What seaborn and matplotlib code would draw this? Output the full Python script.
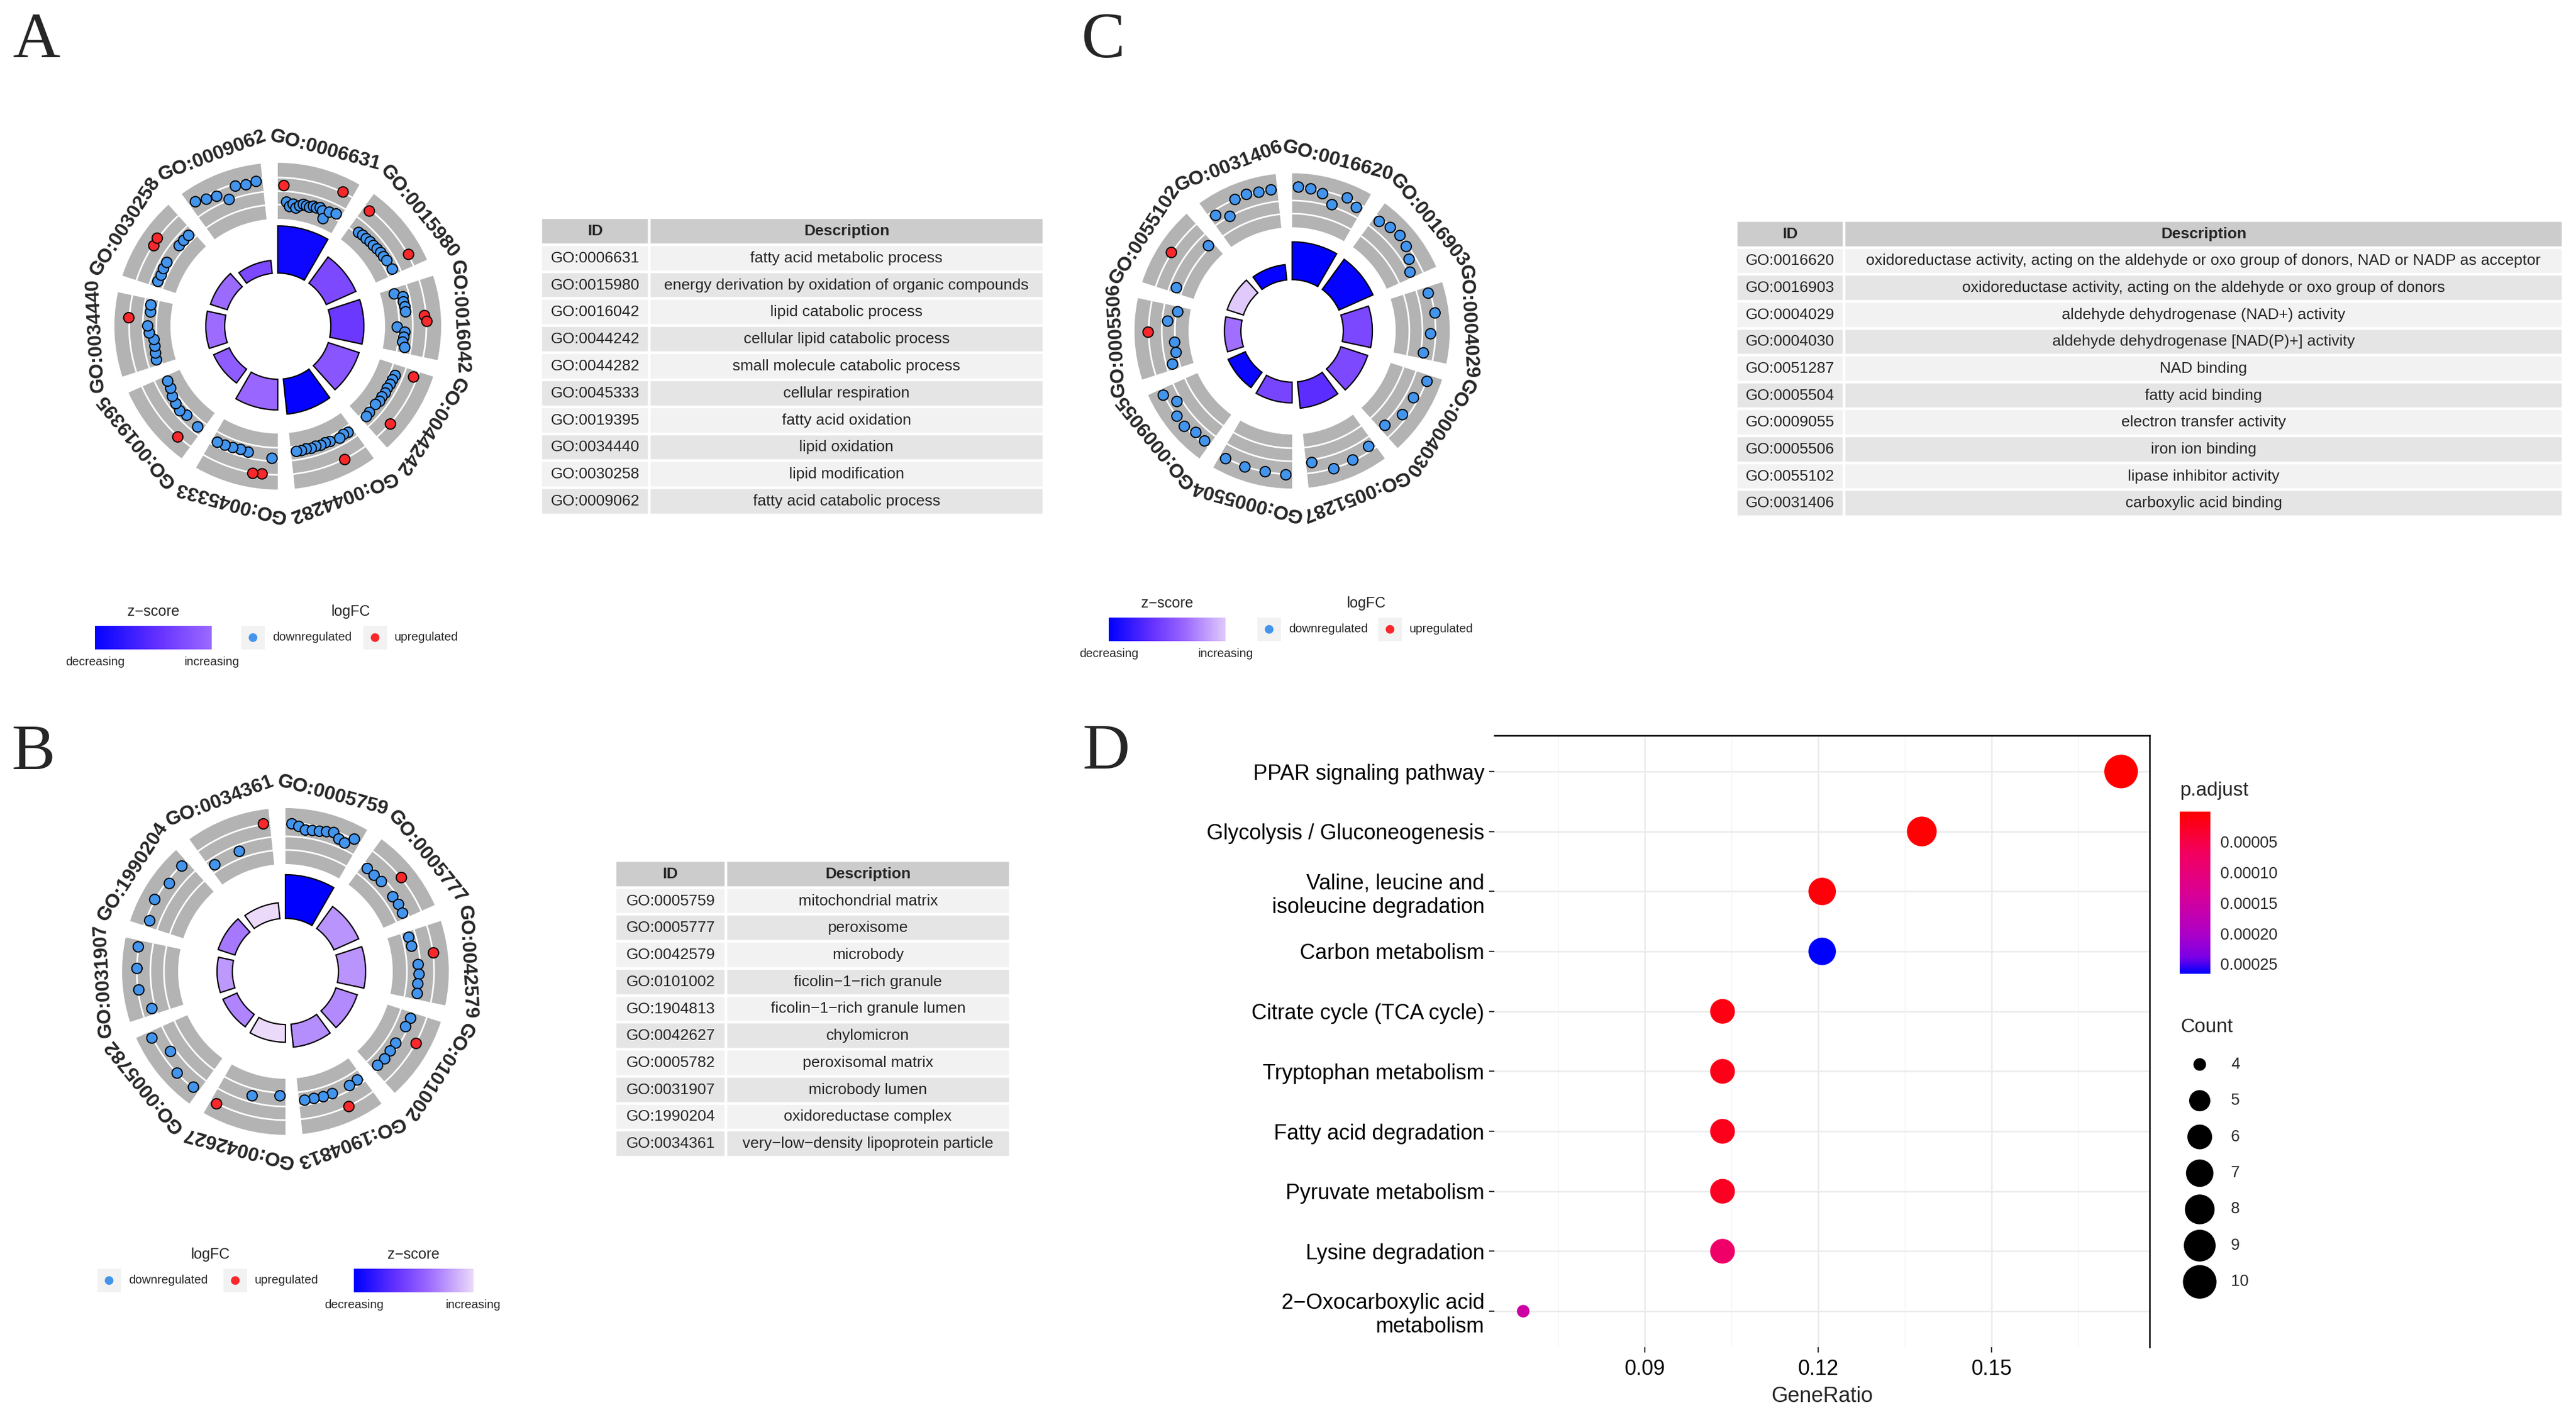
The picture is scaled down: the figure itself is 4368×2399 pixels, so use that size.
import numpy as np
import pandas as pd
import matplotlib
matplotlib.use("Agg")
import matplotlib.pyplot as plt
import seaborn as sns
from matplotlib.colors import LinearSegmentedColormap, Normalize
from matplotlib.patches import Rectangle
from matplotlib.cm import ScalarMappable

sns.set_style("white")
plt.rcParams["font.family"] = ["Liberation Sans", "DejaVu Sans"]

W, H, DPI = 4368, 2399, 200

# ── Panel A: GO biological process ─────────────────────────────────────────
A_ids = ["GO:0006631", "GO:0015980", "GO:0016042", "GO:0044242", "GO:0044282",
         "GO:0045333", "GO:0019395", "GO:0034440", "GO:0030258", "GO:0009062"]
A_desc = ["fatty acid metabolic process",
          "energy derivation by oxidation of organic compounds",
          "lipid catabolic process", "cellular lipid catabolic process",
          "small molecule catabolic process", "cellular respiration",
          "fatty acid oxidation", "lipid oxidation", "lipid modification",
          "fatty acid catabolic process"]
A_neglogp = [16.0, 11.0, 11.2, 11.0, 12.0, 10.4, 5.8, 6.4, 6.0, 4.4]
A_zscore = [-3.04, -1.73, -2.0, -1.54, -3.14, -1.28, -1.44, -1.22, -1.25, -1.73]
A_logfc = [
    [0.4, -0.75, -1.05, -0.85, -1.1, -0.9, -0.75, -0.8, -0.85, -0.7, -0.75, -0.65, -0.8, -1.3, -0.7, 1.0, -0.6],
    [0.85, -0.8, -0.75, -0.75, -0.7, -0.7, -0.65, -0.6, -0.6, -0.55, 1.0, -0.5],
    [-1.0, -0.45, -0.5, -0.45, -0.45, 0.85, 1.0, -1.1, -0.55, -0.6, -0.65, -0.45],
    [0.7, -0.55, -0.6, -0.6, -0.65, -0.6, -0.65, -0.6, -0.7, 1.0, -0.65, -0.6],
    [-0.55, -0.6, -0.5, 1.0, -0.6, -0.65, -0.6, -0.65, -0.6, -0.65, -0.6, -0.6],
    [-0.2, 0.95, 1.0, -0.4, -0.45, -0.4, -0.35, -0.3],
    [-0.45, 1.0, -0.55, -0.4, -0.5, -0.6, -0.8, -0.85],
    [-0.65, -0.7, -0.75, -0.75, -0.45, -0.35, 1.0, -0.5, -0.45],
    [-0.5, -0.55, -0.5, -0.5, 0.9, 1.0, -0.55, -0.55, -0.55],
    [-0.2, -0.45, -0.6, -1.15, -0.4, -0.5, -0.4],
]

# ── Panel B: GO cellular component ─────────────────────────────────────────
B_ids = ["GO:0005759", "GO:0005777", "GO:0042579", "GO:0101002", "GO:1904813",
         "GO:0042627", "GO:0005782", "GO:0031907", "GO:1990204", "GO:0034361"]
B_desc = ["mitochondrial matrix", "peroxisome", "microbody",
          "ficolin\u22121\u2212rich granule", "ficolin\u22121\u2212rich granule lumen",
          "chylomicron", "peroxisomal matrix", "microbody lumen",
          "oxidoreductase complex", "very\u2212low\u2212density lipoprotein particle"]
B_neglogp = [14.8, 9.2, 9.2, 7.6, 7.8, 6.0, 5.2, 5.2, 6.0, 5.4]
B_zscore = [-3.2, -0.8, -0.8, -0.9, -0.86, -0.05, -0.96, -0.74, -1.09, -0.05]
B_logfc = [
    [-0.3, -0.45, -0.65, -0.6, -0.55, -0.45, -0.35, -0.65, -0.75, -0.2],
    [-0.25, -0.3, -0.25, 1.0, -0.3, -0.25, -0.3],
    [-0.5, -0.45, 1.0, -0.15, -0.1, -0.15, -0.1],
    [-0.1, -0.2, 1.0, -0.25, -0.25, -0.2, -0.25],
    [-0.35, -0.3, 1.0, -0.3, -0.3, -0.35, -0.35],
    [-0.75, -0.45, 1.0],
    [-0.3, -0.25, -0.85, -0.2],
    [-0.95, -0.3, -0.25, -0.2],
    [-0.5, -0.2, -0.45, -0.3],
    [-0.5, -0.45, 1.0],
]

# ── Panel C: GO molecular function ─────────────────────────────────────────
C_ids = ["GO:0016620", "GO:0016903", "GO:0004029", "GO:0004030", "GO:0051287",
         "GO:0005504", "GO:0009055", "GO:0005506", "GO:0055102", "GO:0031406"]
C_desc = ["oxidoreductase activity, acting on the aldehyde or oxo group of donors, NAD or NADP as acceptor",
          "oxidoreductase activity, acting on the aldehyde or oxo group of donors",
          "aldehyde dehydrogenase (NAD+) activity",
          "aldehyde dehydrogenase [NAD(P)+] activity", "NAD binding",
          "fatty acid binding", "electron transfer activity", "iron ion binding",
          "lipase inhibitor activity", "carboxylic acid binding"]
C_neglogp = [13.3, 13.1, 10.2, 9.9, 9.3, 7.3, 6.6, 5.8, 6.0, 5.4]
C_zscore = [-3.2, -3.15, -1.76, -1.73, -2.2, -1.8, -3.1, -1.18, -0.22, -3.15]
C_logfc = [
    [-0.2, -0.25, -0.45, -1.05, -0.2, -0.55],
    [-0.5, -0.3, -0.2, -0.35, -0.7, -1.1],
    [-0.4, -0.2, -0.6, -1.0],
    [-0.2, -0.6, -0.6, -1.05],
    [-0.6, -0.3, -0.2, -1.0],
    [-0.2, -0.25, -0.2, -0.2],
    [-0.45, -0.5, -0.2, -0.25, -0.85, -0.2],
    [-0.45, -0.9, -0.9, 1.0, -0.4, -1.05],
    [-0.5, 1.0, -0.8],
    [-0.6, -1.2, -0.25, -0.2, -0.3, -0.3],
]

# ── Panel D: KEGG dot plot ─────────────────────────────────────────────────
kegg_terms = ["PPAR signaling pathway", "Glycolysis / Gluconeogenesis",
              "Valine, leucine and\nisoleucine degradation", "Carbon metabolism",
              "Citrate cycle (TCA cycle)", "Tryptophan metabolism",
              "Fatty acid degradation", "Pyruvate metabolism", "Lysine degradation",
              "2\u2212Oxocarboxylic acid\nmetabolism"]
kegg_count = [10, 8, 7, 7, 6, 6, 6, 6, 6, 4]
kegg_bg = 58
kegg_padj = [7e-7, 3e-6, 8.6e-6, 2.66e-4, 1.4e-5, 1.8e-5, 2.0e-5, 2.6e-5, 8.0e-5, 1.55e-4]
padj_breaks = [5e-5, 1e-4, 1.5e-4, 2e-4, 2.5e-4]
ratio_breaks = [0.09, 0.12, 0.15]

# ── styling ────────────────────────────────────────────────────────────────
ZCMAP = LinearSegmentedColormap.from_list(
    "zsc", [(0, "#0000FF"), (0.35, "#6633FF"), (0.6, "#9966FF"), (1, "#EEDDFA")])
ZNORM = Normalize(-3.2, 0)
PCMAP = LinearSegmentedColormap.from_list(
    "padj", [(0, "#FF0000"), (0.25, "#F3005E"), (0.5, "#DA0094"),
             (0.75, "#AE00C6"), (0.9, "#7A00E6"), (1, "#0000FF")])
LFC_COL = {"down": "#4394EC", "up": "#F8282B"}

R_IN, BAR_K = 90, 5.0
RING_IN, RING_OUT = 182, 277
WHITE_R = [206, 229, 252]
R_TOP, LFC_K = 253, 24
LABEL_R = 309
R_AX = 360

fig = plt.figure(figsize=(W / DPI, H / DPI), dpi=DPI)


def px_rect(x0, y0, x1, y1):
    return [x0 / W, 1 - y1 / H, (x1 - x0) / W, (y1 - y0) / H]


# overlay in pixel units for legends and panel letters
ax_o = fig.add_axes([0, 0, 1, 1])
ax_o.set_xlim(0, W)
ax_o.set_ylim(H, 0)
ax_o.axis("off")


def draw_circle(cx, cy, scale, ids, neglogp, zscore, logfc):
    ax = fig.add_axes(px_rect(cx - R_AX, cy - R_AX, cx + R_AX, cy + R_AX), projection="polar")
    ax.set_theta_zero_location("N")
    ax.set_theta_direction(-1)
    n = len(ids)
    width = np.deg2rad(30)
    starts = np.arange(n) * 2 * np.pi / n
    centers = starts + width / 2
    ax.bar(centers, RING_OUT - RING_IN, width=width, bottom=RING_IN,
           color="#B3B3B3", linewidth=0, zorder=1)
    for s in starts:
        tt = np.linspace(s, s + width, 60)
        for r in WHITE_R:
            ax.plot(tt, np.full_like(tt, r), color="white", lw=1.0, zorder=2)
    ax.bar(centers, np.array(neglogp) * BAR_K, width=width, bottom=R_IN,
           color=ZCMAP(ZNORM(zscore)), edgecolor="black", linewidth=0.8, zorder=2)
    rows = []
    margin = np.deg2rad(2.5)
    for i, vals in enumerate(logfc):
        vals = np.asarray(vals)
        th = np.linspace(starts[i] + margin, starts[i] + width - margin, len(vals))
        rr = np.clip(R_TOP + LFC_K * (vals - vals.max()), RING_IN + 8, None)
        for t_, r_, v in zip(th, rr, vals):
            rows.append((t_, r_, "up" if v > 0 else "down"))
    genes = pd.DataFrame(rows, columns=["theta", "r", "dir"])
    sns.scatterplot(data=genes, x="theta", y="r", hue="dir", palette=LFC_COL, s=40,
                    edgecolor="black", linewidth=0.7, legend=False, ax=ax, zorder=3)
    for c, lab in zip(centers, ids):
        ax.text(c, LABEL_R, lab, rotation=-np.rad2deg(c), rotation_mode="anchor",
                ha="center", va="center", fontsize=12, fontweight="bold")
    ax.set_ylim(0, R_AX / scale)
    ax.axis("off")


def zscore_legend(x0, x1, ytop, zvals):
    ax_o.text((x0 + x1) / 2, ytop - 24, "z\u2212score", ha="center", va="center", fontsize=9)
    gax = fig.add_axes(px_rect(x0, ytop, x1, ytop + 40))
    grad = np.linspace(min(zvals), max(zvals), 256)
    gax.imshow(grad[None, :], cmap=ZCMAP, norm=ZNORM, aspect="auto")
    gax.axis("off")
    ax_o.text(x0, ytop + 62, "decreasing", ha="center", va="center", fontsize=7.4)
    ax_o.text(x1, ytop + 62, "increasing", ha="center", va="center", fontsize=7.4)


def logfc_legend(xk1, xk2, ytop, title_x):
    ax_o.text(title_x, ytop - 24, "logFC", ha="center", va="center", fontsize=9)
    for xk, lab, key in [(xk1, "downregulated", "down"), (xk2, "upregulated", "up")]:
        ax_o.add_patch(Rectangle((xk, ytop), 40, 40, facecolor="#F2F2F2", edgecolor="none"))
        ax_o.scatter([xk + 20], [ytop + 20], s=28, color=LFC_COL[key], edgecolors="none")
        ax_o.text(xk + 53, ytop + 20, lab, ha="left", va="center", fontsize=7.4)


def draw_table(x0, y0, x1, y1, ids, desc, id_frac):
    tax = fig.add_axes(px_rect(x0, y0, x1, y1))
    tax.axis("off")
    tbl = tax.table(cellText=[list(r) for r in zip(ids, desc)], colLabels=["ID", "Description"],
                    colWidths=[id_frac, 1 - id_frac], cellLoc="center", bbox=[0, 0, 1, 1])
    tbl.auto_set_font_size(False)
    tbl.set_fontsize(9.5)
    for (r, c), cell in tbl.get_celld().items():
        cell.set_edgecolor("white")
        cell.set_linewidth(1.6)
        if r == 0:
            cell.set_facecolor("#CCCCCC")
            cell.get_text().set_fontweight("bold")
        else:
            cell.set_facecolor("#F2F2F2" if r % 2 == 1 else "#E5E5E5")


# circles
draw_circle(471, 553, 1.0, A_ids, A_neglogp, A_zscore, A_logfc)
draw_circle(484, 1647, 1.0, B_ids, B_neglogp, B_zscore, B_logfc)
draw_circle(2191, 561, 0.965, C_ids, C_neglogp, C_zscore, C_logfc)

# circle legends
zscore_legend(161, 359, 1061, A_zscore)
logfc_legend(409, 616, 1061, 595)
zscore_legend(1880, 2078, 1047, C_zscore)
logfc_legend(2132, 2337, 1047, 2317)
logfc_legend(165, 379, 2151, 357)
zscore_legend(600, 802, 2151, B_zscore)

# tables
draw_table(917, 369, 1770, 873, A_ids, A_desc, 0.2157)
draw_table(1043, 1459, 1713, 1962, B_ids, B_desc, 0.28)
draw_table(2944, 374, 4346, 876, C_ids, C_desc, 0.1305)


# ── KEGG dot plot ──────────────────────────────────────────────────────────
def dot_area(c, cmin=4, cmax=10):
    d_px = 57 * (3 + 5 * np.sqrt((c - cmin) / (cmax - cmin))) / 8
    return (d_px * 72 / DPI) ** 2


kegg = pd.DataFrame({"Description": kegg_terms,
                     "GeneRatio": np.array(kegg_count) / kegg_bg,
                     "Count": kegg_count, "p.adjust": kegg_padj})
PNORM = Normalize(min(kegg_padj), max(kegg_padj))

axd = fig.add_axes(px_rect(2534, 1247, 3645, 2284))
sns.scatterplot(data=kegg, x="GeneRatio", y="Description", hue="p.adjust", hue_norm=PNORM,
                palette=PCMAP, size="Count", sizes={c: dot_area(c) for c in set(kegg_count)},
                legend=False, linewidth=0, ax=axd, zorder=3)
axd.set_xlim(0.06398, 0.17735)
axd.set_ylim(len(kegg_terms) - 0.4, -0.6)
axd.set_xticks(ratio_breaks)
axd.set_xticklabels([f"{b:.2f}" for b in ratio_breaks])
axd.set_xticks([0.075, 0.105, 0.135, 0.165], minor=True)
axd.grid(True, which="major", color="#EBEBEB", lw=0.9)
axd.grid(True, which="minor", axis="x", color="#F3F3F3", lw=0.5)
axd.set_axisbelow(True)
for s in ["left", "bottom"]:
    axd.spines[s].set_visible(False)
for s in ["top", "right"]:
    axd.spines[s].set_color("black")
    axd.spines[s].set_linewidth(0.9)
axd.tick_params(which="major", bottom=True, left=True, length=3.2, width=0.8,
                color="#333333", labelcolor="black")
axd.tick_params(axis="y", labelsize=13, pad=2.9)
axd.tick_params(axis="x", labelsize=12.8, pad=4)
axd.tick_params(which="minor", length=0)
axd.set_ylabel("")
axd.set_xlabel("GeneRatio", fontsize=13, labelpad=4)

# colour bar
cax = fig.add_axes(px_rect(3696, 1376, 3748, 1651))
cb = fig.colorbar(ScalarMappable(norm=PNORM, cmap=PCMAP), cax=cax)
cb.outline.set_visible(False)
cb.set_ticks(padj_breaks)
cb.set_ticklabels([f"{b:.5f}" for b in padj_breaks])
cax.invert_yaxis()
cax.tick_params(direction="in", length=3, width=0.8, color="white", labelsize=9.7, pad=6,
                left=True, right=True, labelleft=False, labelright=True)
ax_o.text(3697, 1341, "p.adjust", ha="left", va="center", fontsize=12)

# size legend
lax = fig.add_axes(px_rect(3690, 1774, 3860, 2204))
leg_counts = np.arange(4, 11)
sns.scatterplot(x=np.zeros(len(leg_counts)), y=leg_counts, size=leg_counts,
                sizes={c: dot_area(c) for c in leg_counts}, color="black", linewidth=0,
                legend=False, ax=lax)
lax.set_xlim(-40, 130)
lax.set_ylim(10.5, 3.5)
for c in leg_counts:
    lax.text(53, c, str(c), ha="left", va="center", fontsize=9.7)
lax.axis("off")
ax_o.text(3697, 1741, "Count", ha="left", va="center", fontsize=12)

# panel letters
for lab, x, y in [("A", 22, 97), ("B", 20, 1304), ("C", 1833, 97), ("D", 1836, 1303)]:
    ax_o.text(x, y, lab, ha="left", va="baseline", fontsize=40, family="Liberation Serif")

fig.savefig("out.png", dpi=DPI)
